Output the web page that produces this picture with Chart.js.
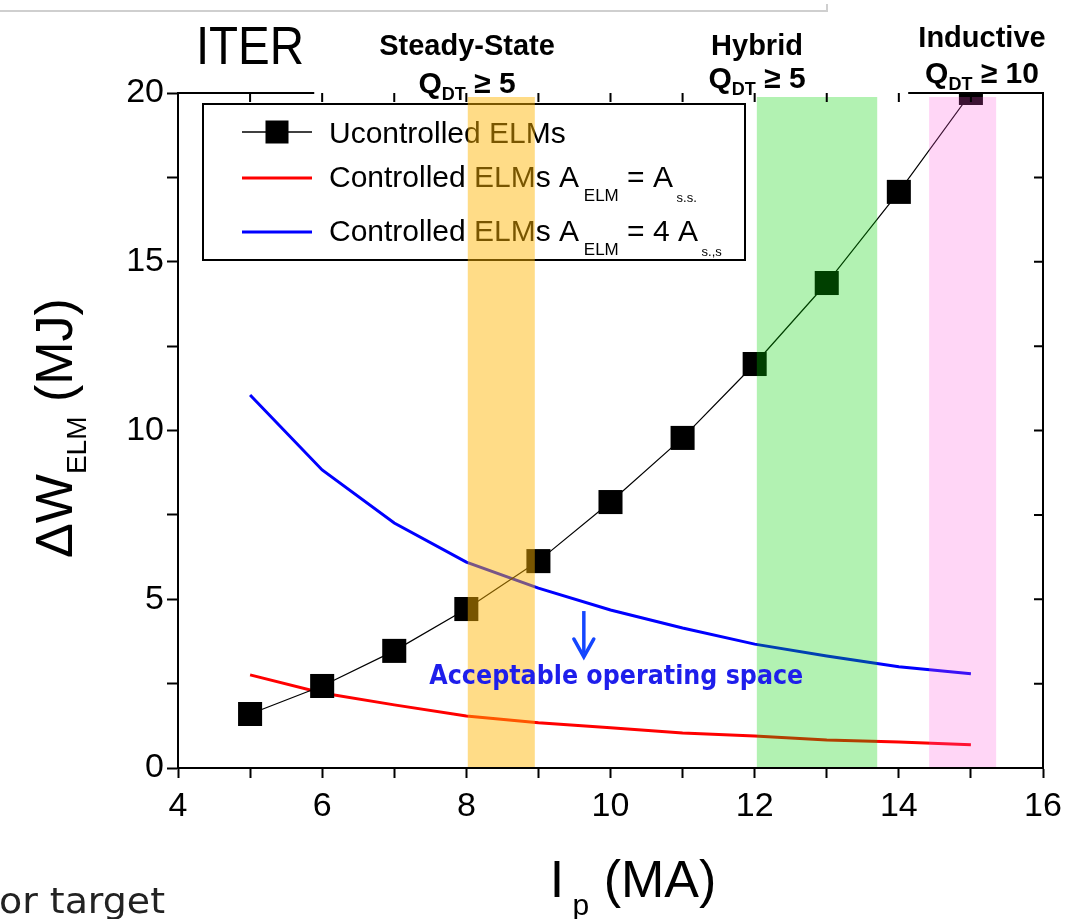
<!DOCTYPE html>
<html><head><meta charset="utf-8">
<script src="https://cdn.jsdelivr.net/npm/chart.js@4.4.1/dist/chart.umd.min.js"></script>
<style>html,body{margin:0;padding:0;background:#fff;overflow:hidden}#wrap{position:relative;width:1065px;height:919px}</style>
</head><body><div id="wrap"><canvas id="c" width="1065" height="919"></canvas></div>
<script>
// ---- data ----
const currents = [5, 6, 7, 8, 9, 10, 11, 12, 13, 14, 15];
const uncontrolled = [1.60, 2.43, 3.47, 4.71, 6.13, 7.88, 9.78, 11.97, 14.37, 17.07, 20.0];
const controlledSS = [2.76, 2.22, 1.87, 1.54, 1.34, 1.19, 1.04, 0.95, 0.83, 0.77, 0.69];
const controlled4SS = [11.05, 8.83, 7.26, 6.10, 5.33, 4.68, 4.15, 3.67, 3.32, 3.00, 2.79];
const scenarioNames = ['Steady-State', 'Hybrid', 'Inductive'];
const scenarioQ = ['5', '5', '10'];
const bandStart = [8.02, 12.03, 14.42];
const bandEnd = [8.95, 13.70, 15.35];
const xTickLabels = [4, 6, 8, 10, 12, 14, 16];
const yTickLabels = [0, 5, 10, 15, 20];

const FONT = '"Liberation Sans", Arial, sans-serif';
const pts = ys => currents.map((c, i) => ({x: c, y: ys[i]}));

function rich(ctx, parts, x, y, align, color, sx) {
  sx = sx || 1;
  let w = 0;
  parts.forEach(p => { ctx.font = (p.b ? 'bold ' : '') + p.s + 'px ' + (p.f || FONT); p.w = ctx.measureText(p.t).width; w += p.w; });
  ctx.save();
  ctx.translate(x, y);
  ctx.scale(sx, 1);
  let cx = align === 'center' ? -w / 2 : 0;
  ctx.fillStyle = color || '#000';
  ctx.textAlign = 'left';
  ctx.textBaseline = 'alphabetic';
  parts.forEach(p => { ctx.font = (p.b ? 'bold ' : '') + p.s + 'px ' + (p.f || FONT); ctx.fillText(p.t, cx, p.dy || 0); cx += p.w; });
  ctx.restore();
}
function fitText(ctx, t, font, x, y, width, color, align) {
  ctx.save();
  ctx.font = font;
  const w = ctx.measureText(t).width;
  ctx.translate(x, y);
  ctx.scale(width / w, 1);
  ctx.fillStyle = color;
  ctx.textAlign = align || 'left';
  ctx.textBaseline = 'alphabetic';
  ctx.fillText(t, 0, 0);
  ctx.restore();
}

const deco = {
  id: 'deco',
  afterDatasetsDraw(chart) {
    const ctx = chart.ctx, a = chart.chartArea, X = chart.scales.x, Y = chart.scales.y;
    // legend
    ctx.save();
    ctx.strokeStyle = '#000'; ctx.lineWidth = 2;
    ctx.strokeRect(203, 104, 542, 156);
    const rows = [132, 178, 232];
    const cols = ['#000', '#ff0000', '#0000ff'];
    const lw = [1.5, 3, 3];
    rows.forEach((ry, i) => {
      ctx.beginPath(); ctx.strokeStyle = cols[i]; ctx.lineWidth = lw[i];
      ctx.moveTo(242, ry); ctx.lineTo(312, ry); ctx.stroke();
    });
    ctx.fillStyle = '#000'; ctx.fillRect(277 - 11.5, 132 - 11.5, 23, 23);
    rich(ctx, [{t: 'Ucontrolled ELMs', s: 30}], 329, 143);
    rich(ctx, [{t: 'Controlled ELMs A', s: 30}, {t: ' ELM', s: 17, dy: 14}, {t: ' = A', s: 30}, {t: ' s.s.', s: 13, dy: 15}], 329, 187);
    rich(ctx, [{t: 'Controlled ELMs A', s: 30}, {t: ' ELM', s: 17, dy: 14}, {t: ' = 4 A', s: 30}, {t: ' s.,s', s: 13, dy: 15}], 329, 241);
    ctx.restore();

    // scenario bands (translucent overlay)
    const bandCols = ['rgba(255,181,0,0.47)', 'rgba(0,213,0,0.30)', 'rgba(255,81,217,0.235)'];
    bandStart.forEach((s, i) => {
      const x0 = X.getPixelForValue(s), x1 = X.getPixelForValue(bandEnd[i]);
      ctx.fillStyle = bandCols[i];
      ctx.fillRect(x0, a.top + 4, x1 - x0, a.bottom - 1 - (a.top + 4));
    });

    // arrow + annotation
    const ax = X.getPixelForValue(9.63), ay0 = Y.getPixelForValue(4.65), ay1 = Y.getPixelForValue(3.29);
    ctx.save();
    ctx.strokeStyle = '#1446ff'; ctx.fillStyle = '#1446ff'; ctx.lineWidth = 3.5;
    ctx.beginPath(); ctx.moveTo(ax, ay0); ctx.lineTo(ax, ay1 - 4); ctx.stroke();
    ctx.lineWidth = 3.5; ctx.lineCap = 'round';
    ctx.beginPath(); ctx.moveTo(ax - 10, ay1 - 18); ctx.lineTo(ax, ay1); ctx.lineTo(ax + 10, ay1 - 18); ctx.stroke();
    ctx.restore();
    fitText(ctx, 'Acceptable operating space', 'bold 27px "DejaVu Sans", sans-serif',
      X.getPixelForValue(10.08) - 187, Y.getPixelForValue(2.49), 374, '#1e1eeb');

    // frame: right axis and (partly hidden) top axis
    ctx.save();
    ctx.strokeStyle = '#000'; ctx.lineWidth = 2;
    ctx.beginPath();
    ctx.moveTo(a.left, a.top); ctx.lineTo(X.getPixelForValue(5.89), a.top);
    ctx.moveTo(X.getPixelForValue(14.13), a.top); ctx.lineTo(a.right, a.top); ctx.lineTo(a.right, a.bottom);
    ctx.stroke();
    ctx.beginPath();
    for (let v = 5; v <= 15; v++) { const px = X.getPixelForValue(v); ctx.moveTo(px, a.top); ctx.lineTo(px, a.top + 9); }
    for (let v = 2.5; v < 20; v += 2.5) { const py = Y.getPixelForValue(v); ctx.moveTo(a.right, py); ctx.lineTo(a.right - 9, py); }
    ctx.stroke();
    ctx.restore();
  },
  afterDraw(chart) {
    const ctx = chart.ctx;
    // top gray rule
    ctx.save();
    ctx.strokeStyle = '#cfcfcf'; ctx.lineWidth = 2;
    ctx.beginPath(); ctx.moveTo(0, 11); ctx.lineTo(827, 11); ctx.lineTo(827, 4); ctx.stroke();
    ctx.restore();
    // titles and scenario labels
    rich(ctx, [{t: 'ITER', s: 54}], 250, 64, 'center', '#000', 0.88);
    const cx = [467, 757, 982], by = [55, 55, 47], qy = [93, 88, 83];
    scenarioNames.forEach((n, i) => {
      rich(ctx, [{t: n, s: 29, b: 1}], cx[i], by[i], 'center');
      rich(ctx, [{t: 'Q', s: 30, b: 1}, {t: 'DT', s: 18, b: 1, dy: 7}, {t: ' \u2265 ' + scenarioQ[i], s: 30, b: 1}], cx[i], qy[i], 'center');
    });
    // axis titles
    ctx.save();
    ctx.translate(72, 428);
    ctx.rotate(-Math.PI / 2);
    rich(ctx, [{t: '\u0394W', s: 52}, {t: 'ELM', s: 28, dy: 14}, {t: ' (MJ)', s: 52}], 0, 0, 'center');
    ctx.restore();
    rich(ctx, [{t: 'I', s: 52}, {t: ' p', s: 30, dy: 18}, {t: ' (MA)', s: 52}], 633, 897, 'center');
    fitText(ctx, 'or target', '36px "DejaVu Sans", sans-serif', -1, 913, 166, '#222');
  }
};

new Chart(document.getElementById('c'), {
  type: 'scatter',
  data: {
    datasets: [
      {label: 'Ucontrolled ELMs', data: pts(uncontrolled), showLine: true, borderColor: '#000', borderWidth: 1.2,
       pointStyle: 'rect', pointRadius: 17, pointBackgroundColor: '#000', pointBorderWidth: 0, pointHoverRadius: 17},
      {label: 'Controlled ELMs A_ELM = A_s.s.', data: pts(controlledSS), showLine: true, borderColor: '#ff0000', borderWidth: 3, pointRadius: 0},
      {label: 'Controlled ELMs A_ELM = 4 A_s.,s', data: pts(controlled4SS), showLine: true, borderColor: '#0000ff', borderWidth: 3, pointRadius: 0}
    ]
  },
  options: {
    responsive: false, animation: false, devicePixelRatio: 1,
    layout: {padding: {top: 93, right: 22, left: 0, bottom: 0}},
    plugins: {legend: {display: false}, tooltip: {enabled: false}},
    scales: {
      x: {
        type: 'linear', min: 4, max: 16,
        ticks: {stepSize: 1, autoSkip: false, maxRotation: 0, padding: 8, color: '#000',
                font: {family: FONT, size: 34},
                callback: v => xTickLabels.includes(v) ? String(v) : ''},
        grid: {drawOnChartArea: false, tickLength: 10, tickWidth: 2, tickColor: '#000'},
        border: {color: '#000', width: 2},
        afterFit: s => { s.height = 151; s.paddingLeft = 0; s.paddingRight = 0; }
      },
      y: {
        min: 0, max: 20,
        ticks: {stepSize: 2.5, autoSkip: false, padding: 3, color: '#000',
                font: {family: FONT, size: 34},
                callback: v => yTickLabels.includes(v) ? String(v) : ''},
        grid: {drawOnChartArea: false, tickLength: 11, tickWidth: 2, tickColor: '#000'},
        border: {color: '#000', width: 2},
        afterFit: s => { s.width = 178; s.paddingTop = 0; s.paddingBottom = 0; }
      }
    }
  },
  plugins: [deco]
});
</script></body></html>
